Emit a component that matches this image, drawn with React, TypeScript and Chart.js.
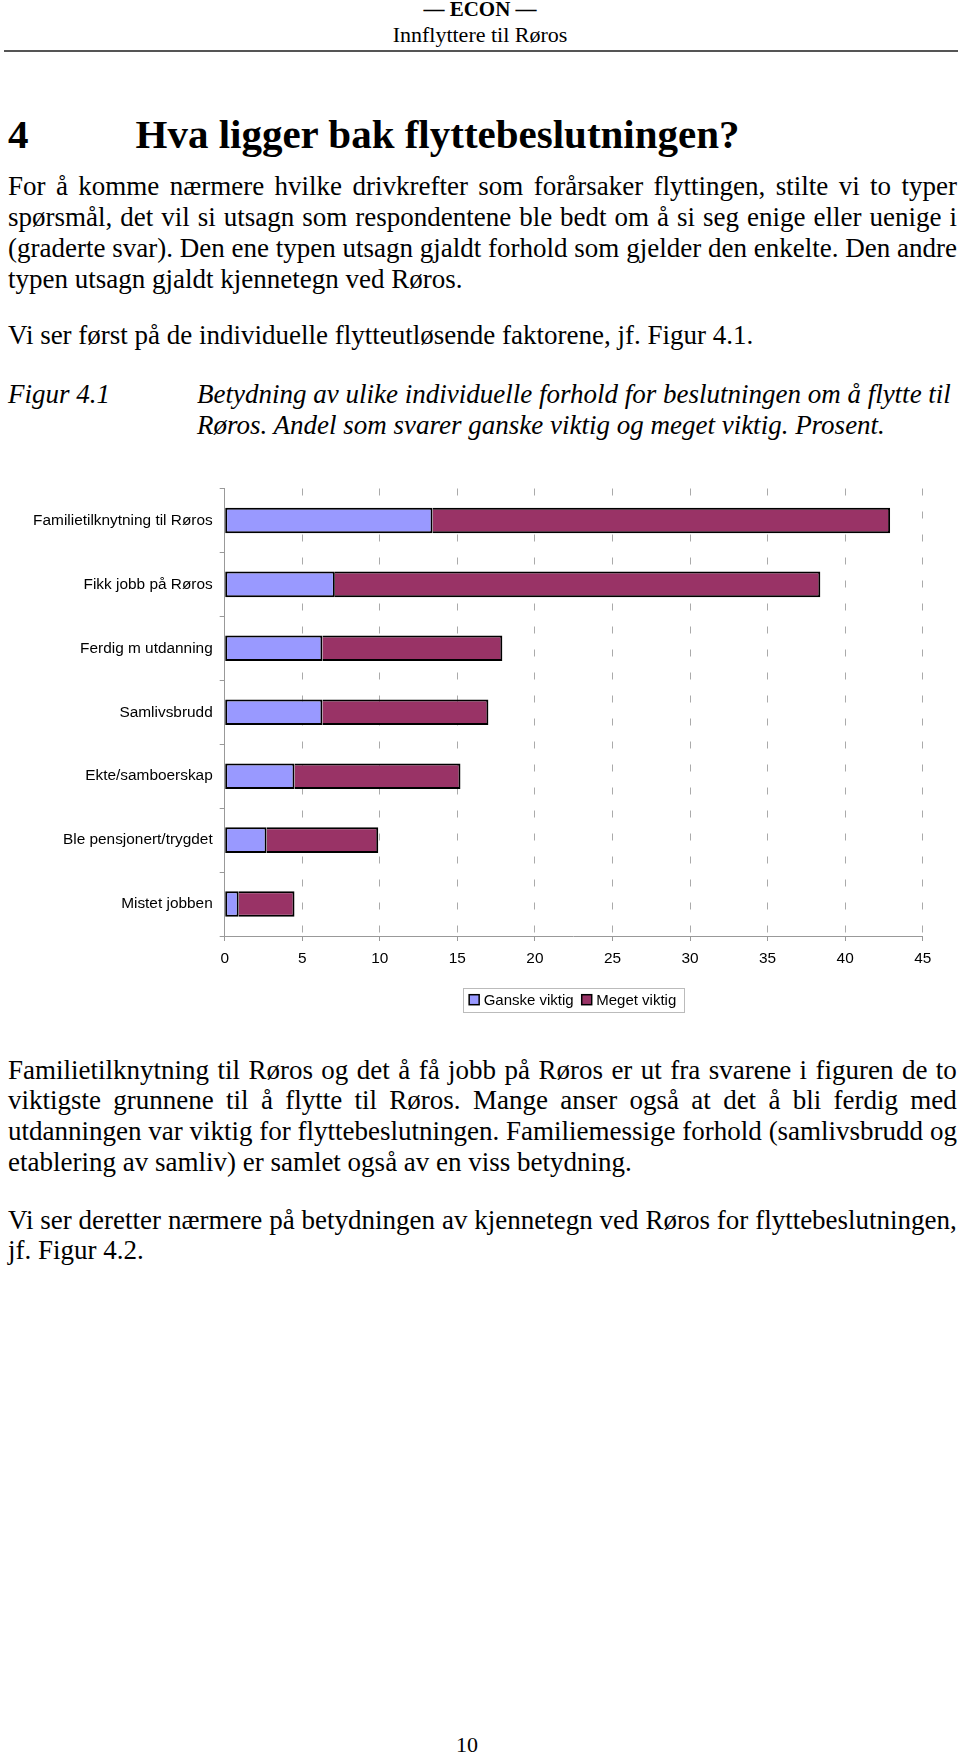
import React, { useEffect, useRef } from 'react';
import { Chart, registerables } from 'chart.js';

Chart.register(...registerables);

// ---------- chart data ----------
const categories = [
  'Familietilknytning til Røros',
  'Fikk jobb på Røros',
  'Ferdig m utdanning',
  'Samlivsbrudd',
  'Ekte/samboerskap',
  'Ble pensjonert/trygdet',
  'Mistet jobben',
];
const ganskeViktig = [13.4, 7.1, 6.3, 6.3, 4.5, 2.7, 0.9];
const megetViktig = [29.5, 31.3, 11.6, 10.7, 10.7, 7.2, 3.6];
const seriesLabels = ['Ganske viktig', 'Meget viktig'];
const seriesColors = ['#9999FF', '#993366'];
const xMin = 0;
const xMax = 45;
const xStep = 5;

// ---------- page text ----------
const headerTitle = '— ECON —';
const headerSub = 'Innflyttere til Røros';
const headingNum = '4';
const headingText = 'Hva ligger bak flyttebeslutningen?';
const para1 = [
  'For å komme nærmere hvilke drivkrefter som forårsaker flyttingen, stilte vi to typer',
  'spørsmål, det vil si utsagn som respondentene ble bedt om å si seg enige eller uenige i',
  '(graderte svar). Den ene typen utsagn gjaldt forhold som gjelder den enkelte. Den andre',
  'typen utsagn gjaldt kjennetegn ved Røros.',
];
const para2 = ['Vi ser først på de individuelle flytteutløsende faktorene, jf. Figur 4.1.'];
const figLabel = 'Figur 4.1';
const figCaption = [
  'Betydning av ulike individuelle forhold for beslutningen om å flytte til',
  'Røros. Andel som svarer ganske viktig og meget viktig. Prosent.',
];
const para3 = [
  'Familietilknytning til Røros og det å få jobb på Røros er ut fra svarene i figuren de to',
  'viktigste grunnene til å flytte til Røros. Mange anser også at det å bli ferdig med',
  'utdanningen var viktig for flyttebeslutningen. Familiemessige forhold (samlivsbrudd og',
  'etablering av samliv) er samlet også av en viss betydning.',
];
const para4 = [
  'Vi ser deretter nærmere på betydningen av kjennetegn ved Røros for flyttebeslutningen,',
  'jf. Figur 4.2.',
];
const pageNumber = '10';

const SERIF = '"Liberation Serif", "Times New Roman", Times, serif';
const SANS = '"Liberation Sans", Arial, Helvetica, sans-serif';

type LineProps = {
  x: number;
  w?: number;
  base: number;
  size: number;
  text: string;
  justify?: boolean;
  bold?: boolean;
  italic?: boolean;
  center?: number;
};

function Line({ x, w, base, size, text, justify, bold, italic, center }: LineProps) {
  const top = base - 0.8375 * size;
  const common: React.CSSProperties = {
    position: 'absolute',
    top,
    fontFamily: SERIF,
    fontSize: size,
    lineHeight: `${size}px`,
    fontWeight: bold ? 'bold' : 'normal',
    fontStyle: italic ? 'italic' : 'normal',
    color: '#000',
    whiteSpace: 'pre',
  };
  if (center !== undefined) {
    return (
      <div style={{ ...common, left: center - 300, width: 600, textAlign: 'center' }}>{text}</div>
    );
  }
  if (justify) {
    const words = text.split(' ');
    return (
      <div style={{ ...common, left: x, width: w, display: 'flex', justifyContent: 'space-between' }}>
        {words.map((wd, i) => (
          <span key={i}>{wd}</span>
        ))}
      </div>
    );
  }
  return <div style={{ ...common, left: x }}>{text}</div>;
}

function Paragraph({ lines, base, step, size }: { lines: string[]; base: number; step: number; size: number }) {
  return (
    <>
      {lines.map((t, i) => (
        <Line
          key={i}
          x={8}
          w={949}
          base={base + i * step}
          size={size}
          text={t}
          justify={i < lines.length - 1}
        />
      ))}
    </>
  );
}

const boxedLegend = {
  id: 'boxedLegend',
  afterDraw(chart: any) {
    const { ctx, chartArea } = chart;
    const ds = chart.data.datasets;
    ctx.save();
    ctx.font = `15px ${SANS}`;
    const sq = 10;
    const textGap = 4.5;
    const itemGap = 8;
    const widths = ds.map((d: any) => sq + textGap + ctx.measureText(d.label).width);
    const content = widths.reduce((a: number, b: number) => a + b, 0) + itemGap * (ds.length - 1);
    const padL = 6;
    const padR = 8;
    const boxW = content + padL + padR;
    const cx = (chartArea.left + chartArea.right) / 2;
    const boxX = cx - boxW / 2;
    const cy = chartArea.bottom + 63.7;
    const boxH = 24;
    ctx.strokeStyle = '#bbbbbb';
    ctx.lineWidth = 1;
    ctx.strokeRect(Math.round(boxX) + 0.5, Math.round(cy - boxH / 2) + 0.5, Math.round(boxW), boxH);
    let x = boxX + padL;
    ds.forEach((d: any, i: number) => {
      ctx.fillStyle = d.backgroundColor;
      ctx.fillRect(x, cy - sq / 2, sq, sq);
      ctx.strokeStyle = '#000';
      ctx.lineWidth = 1.5;
      ctx.strokeRect(x, cy - sq / 2, sq, sq);
      ctx.fillStyle = '#000';
      ctx.textAlign = 'left';
      ctx.textBaseline = 'middle';
      ctx.fillText(d.label, x + sq + textGap, cy + 1);
      x += widths[i] + itemGap;
    });
    ctx.restore();
  },
};

function ChartBlock() {
  const ref = useRef<HTMLCanvasElement>(null);
  useEffect(() => {
    if (!ref.current) return;
    const chart = new Chart(ref.current, {
      type: 'bar',
      data: {
        labels: categories,
        datasets: [
          {
            label: seriesLabels[0],
            data: ganskeViktig,
            backgroundColor: seriesColors[0],
            borderColor: '#000',
            borderWidth: 2,
            borderSkipped: false,
          },
          {
            label: seriesLabels[1],
            data: megetViktig,
            backgroundColor: seriesColors[1],
            borderColor: '#000',
            borderWidth: 2,
            borderSkipped: 'start',
          },
        ],
      },
      options: {
        indexAxis: 'y',
        responsive: false,
        animation: false,
        devicePixelRatio: 1,
        layout: { padding: { left: 0, right: 37.3, top: 8.5, bottom: 74 }, autoPadding: false },
        datasets: { bar: { categoryPercentage: 1, barPercentage: 0.4 } },
        plugins: {
          legend: { display: false },
          tooltip: { enabled: false },
          title: { display: false },
        },
        scales: {
          x: {
            type: 'linear',
            stacked: true,
            min: xMin,
            max: xMax,
            ticks: { stepSize: xStep, color: '#000', font: { family: SANS, size: 15.4 }, padding: 9 },
            grid: {
              color: '#aaaaaa',
              lineWidth: 1,
              drawTicks: true,
              tickLength: 5,
              tickColor: '#999999',
              tickBorderDash: [],
            },
            border: { display: true, color: '#999999', width: 1, dash: [7, 16] },
            afterFit: (s: any) => {
              s.height = 30;
              s.paddingLeft = 0;
              s.paddingRight = 0;
              s.paddingTop = 0;
              s.paddingBottom = 0;
            },
          },
          y: {
            type: 'category',
            stacked: true,
            grid: { offset: true, drawOnChartArea: false, drawTicks: true, tickLength: 5, color: '#999999' },
            border: { display: true, color: '#999999', width: 1 },
            ticks: { color: '#000', font: { family: SANS, size: 15.4 }, padding: 7 },
            afterFit: (s: any) => {
              s.width = 224.7;
              s.paddingLeft = 0;
              s.paddingRight = 0;
              s.paddingTop = 0;
              s.paddingBottom = 0;
            },
          },
        },
      } as any,
      plugins: [boxedLegend],
    });
    return () => chart.destroy();
  }, []);
  return (
    <canvas
      ref={ref}
      width={960}
      height={560}
      style={{ position: 'absolute', left: 0, top: 480, width: 960, height: 560 }}
    />
  );
}

export default function App() {
  return (
    <div style={{ position: 'absolute', left: 0, top: 0, width: 960, height: 1757, background: '#fff', overflow: 'hidden' }}>
      <Line x={0} base={17} size={21} text={headerTitle} bold center={480} />
      <Line x={0} base={42} size={22} text={headerSub} center={480} />
      <div style={{ position: 'absolute', left: 4, top: 50, width: 954, height: 2, background: '#555' }} />

      <Line x={8} base={148} size={41} text={headingNum} bold />
      <Line x={135.5} base={148} size={41} text={headingText} bold />

      <Paragraph lines={para1} base={195.6} step={31} size={27} />
      <Paragraph lines={para2} base={344.5} step={31} size={27} />

      <Line x={8} base={403.8} size={27} text={figLabel} italic />
      <Line x={197} base={403.8} size={27} text={figCaption[0]} italic />
      <Line x={197} base={434.8} size={27} text={figCaption[1]} italic />

      <ChartBlock />

      <Paragraph lines={para3} base={1079.5} step={30.6} size={27} />
      <Paragraph lines={para4} base={1229.5} step={30.6} size={27} />

      <Line x={0} base={1752} size={22} text={pageNumber} center={467} />
    </div>
  );
}
